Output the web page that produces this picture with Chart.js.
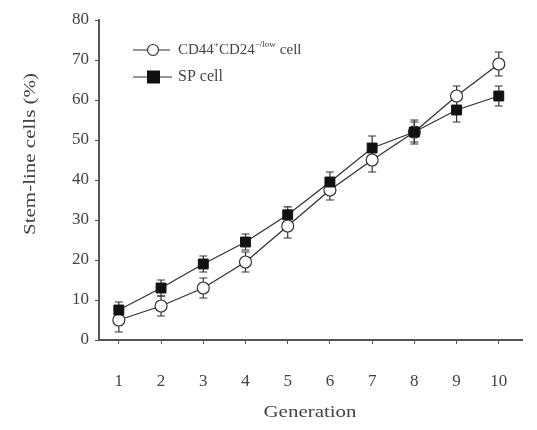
<!DOCTYPE html>
<html><head><meta charset="utf-8">
<script src="https://cdn.jsdelivr.net/npm/chart.js@4/dist/chart.umd.min.js"></script>
<style>html,body{margin:0;padding:0;background:#fff}#wrap{width:537px;height:430px}</style>
</head><body><div id="wrap"><canvas id="c" width="537" height="430"></canvas></div>
<script>
const generations = [1,2,3,4,5,6,7,8,9,10];
const cd44Values = [5, 8.5, 13, 19.5, 28.5, 37.5, 45, 52, 61, 69];
const cd44Errors = [3, 2.5, 2.5, 2.5, 3, 2.5, 3, 2.5, 2.5, 3];
const spValues = [7.5, 13, 19, 24.5, 31.3, 39.5, 48, 52, 57.5, 61];
const spErrors = [2, 2, 2, 2, 2, 2.5, 3, 3, 3, 2.5];
const yTicks = [0,10,20,30,40,50,60,70,80];
const seriesNames = ["CD44", "SP cell"];
const xTitle = 'Generation';
const yTitle = 'Stem-line cells (%)';

const FONT = "'Liberation Serif', 'DejaVu Serif', serif";
const AX = '#555';
const TXT = '#444';

const errorBars = {
  id: 'errorBars',
  beforeDatasetsDraw(chart) {
    const ctx = chart.ctx, xs = chart.scales.x, ys = chart.scales.y;
    const sets = [[cd44Values, cd44Errors], [spValues, spErrors]];
    ctx.save();
    ctx.strokeStyle = '#333'; ctx.lineWidth = 1.2;
    sets.forEach(([v, e]) => {
      v.forEach((val, i) => {
        const x = xs.getPixelForValue(generations[i]);
        const y1 = ys.getPixelForValue(val + e[i]);
        const y2 = ys.getPixelForValue(val - e[i]);
        ctx.beginPath();
        ctx.moveTo(x, y1); ctx.lineTo(x, y2);
        ctx.moveTo(x - 4, y1); ctx.lineTo(x + 4, y1);
        ctx.moveTo(x - 4, y2); ctx.lineTo(x + 4, y2);
        ctx.stroke();
      });
    });
    ctx.restore();
  }
};

function stretchedText(ctx, text, cx, cy, size, targetW, rot) {
  ctx.save();
  ctx.font = size + 'px ' + FONT;
  const w = ctx.measureText(text).width;
  ctx.translate(cx, cy);
  if (rot) ctx.rotate(-Math.PI / 2);
  ctx.scale(targetW / w, 1);
  ctx.textAlign = 'center'; ctx.textBaseline = 'middle';
  ctx.fillStyle = TXT;
  ctx.fillText(text, 0, 0);
  ctx.restore();
}

const customLegend = {
  id: 'customLegend',
  afterDraw(chart) {
    const ctx = chart.ctx;
    stretchedText(ctx, xTitle, 310, 413, 17, 93, false);
    stretchedText(ctx, yTitle, 31, 154, 16, 162, true);
    ctx.save();
    ctx.strokeStyle = '#333'; ctx.lineWidth = 1.2;
    // row 1
    let y = 50;
    ctx.beginPath(); ctx.moveTo(133, y); ctx.lineTo(170, y); ctx.stroke();
    ctx.fillStyle = '#fff';
    ctx.beginPath(); ctx.arc(153, y, 5.5, 0, Math.PI * 2); ctx.fill(); ctx.stroke();
    ctx.fillStyle = TXT;
    ctx.textBaseline = 'middle'; ctx.textAlign = 'left';
    ctx.font = '15px ' + FONT;
    let x = 178;
    ctx.fillText('CD44', x, y); x += ctx.measureText('CD44').width;
    ctx.font = '9px ' + FONT; ctx.fillText('+', x, y - 5); x += ctx.measureText('+').width;
    ctx.font = '15px ' + FONT; ctx.fillText('CD24', x, y); x += ctx.measureText('CD24').width;
    ctx.font = '9px ' + FONT; ctx.fillText('−/low', x, y - 5); x += ctx.measureText('−/low').width + 4;
    ctx.font = '15px ' + FONT; ctx.fillText('cell', x, y);
    // row 2
    y = 77;
    ctx.beginPath(); ctx.moveTo(133, y); ctx.lineTo(172, y); ctx.stroke();
    ctx.fillStyle = '#111';
    ctx.fillRect(147, y - 6.5, 13, 13);
    ctx.fillStyle = TXT;
    ctx.font = '16px ' + FONT;
    ctx.fillText('SP cell', 178, y);
    ctx.restore();
  }
};

new Chart(document.getElementById('c'), {
  type: 'line',
  data: {
    datasets: [
      {
        label: seriesNames[0],
        data: generations.map((g, i) => ({x: g, y: cd44Values[i]})),
        borderColor: '#333', borderWidth: 1.3,
        pointStyle: 'circle', pointRadius: 6,
        pointBackgroundColor: '#fff', pointBorderColor: '#333', pointBorderWidth: 1.2,
        order: 1
      },
      {
        label: seriesNames[1],
        data: generations.map((g, i) => ({x: g, y: spValues[i]})),
        borderColor: '#333', borderWidth: 1.3,
        pointStyle: 'rect', pointRadius: 7,
        pointBackgroundColor: '#111', pointBorderColor: '#111', pointBorderWidth: 1,
        order: 0
      }
    ]
  },
  options: {
    responsive: false, animation: false,
    layout: {padding: {top: 20, right: 15, left: 0, bottom: 0}},
    plugins: {legend: {display: false}, tooltip: {enabled: false}},
    scales: {
      x: {
        type: 'linear', min: 0.53, max: 10.55,
        afterFit(s) { s.height = 90; },
        afterBuildTicks(s) { s.ticks = generations.map(v => ({value: v})); },
        border: {color: AX, width: 2},
        grid: {drawOnChartArea: false, tickLength: 4, color: AX},
        ticks: {color: TXT, font: {family: FONT, size: 17}, padding: 27},
        title: {display: false}
      },
      y: {
        min: 0, max: 80,
        afterFit(s) { s.width = 99; },
        afterBuildTicks(s) { s.ticks = yTicks.map(v => ({value: v})); },
        border: {color: AX, width: 2},
        grid: {drawOnChartArea: false, tickLength: 4, color: AX},
        ticks: {color: TXT, font: {family: FONT, size: 17}, padding: 6},
        title: {display: false}
      }
    }
  },
  plugins: [errorBars, customLegend]
});
</script></body></html>
